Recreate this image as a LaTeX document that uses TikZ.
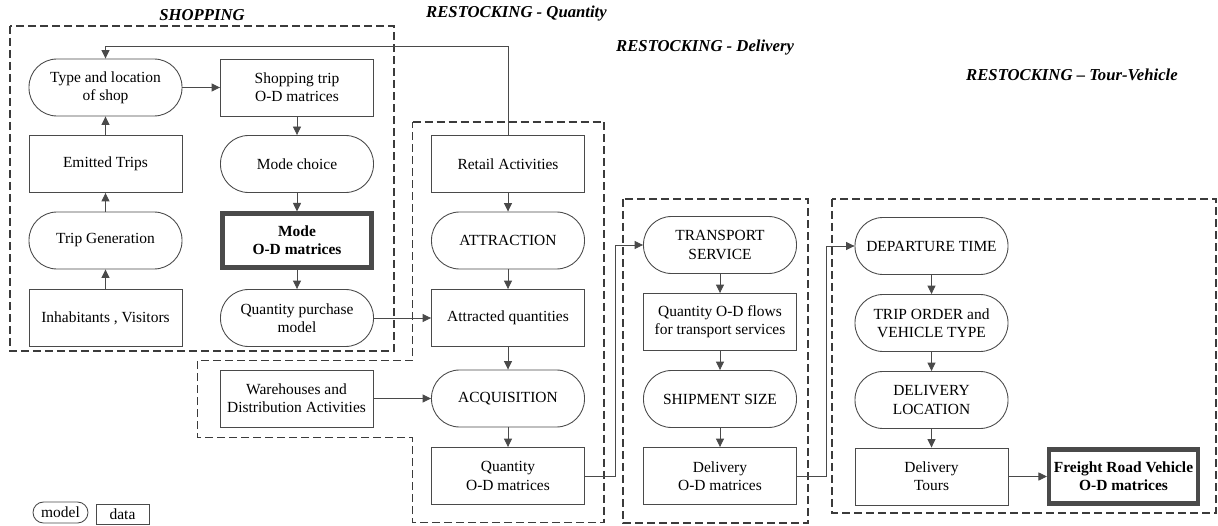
\documentclass[tikz,border=0pt]{standalone}
\usepackage{fontspec}
\setmainfont{Liberation Serif}
\usepackage{tikz}
\usetikzlibrary{arrows.meta}

\definecolor{linegray}{HTML}{4A4A4A}

\begin{document}
\begin{tikzpicture}[
    every node/.style={font=\fontsize{8.8}{10.4}\selectfont,align=center,text=black},
    datum/.style={draw=linegray,line width=0.5pt,minimum width=3.06cm,minimum height=1.14cm,inner sep=1pt},
    modelbox/.style={datum,rounded corners=5.6mm},
    result/.style={draw=linegray,line width=2.3pt,minimum width=2.98cm,minimum height=1.08cm,inner sep=1pt,font=\fontsize{8.8}{10.4}\selectfont\bfseries},
    flow/.style={draw=linegray,line width=0.5pt,-{Triangle[length=1.7mm,width=1.6mm]}},
    zone/.style={draw=linegray!80!black,line width=1.05pt,dash pattern=on 1.6mm off 0.8mm},
    zonetitle/.style={font=\fontsize{9.5}{11}\selectfont\bfseries\itshape}]
  \useasboundingbox (0,0) rectangle (24.36,10.5);

  \draw[zone] (0.2,9.98) rectangle (7.88,3.48);
  \draw[zone] (8.25,8.06) -- (12.08,8.06) -- (12.08,0.05) -- (8.25,0.05) -- (8.25,1.75)
    -- (3.95,1.75) -- (3.95,3.29) -- (8.25,3.29) -- cycle;
  \draw[zone] (12.46,6.52) rectangle (16.16,0.04);
  \draw[zone] (16.64,6.52) rectangle (24.32,0.24);

  \node[zonetitle] (t1) at (4.04,10.2) {SHOPPING};
  \node[zonetitle,anchor=west] (t2) at (8.4,10.22) {RESTOCKING - Quantity};
  \node[zonetitle,anchor=west] (t3) at (12.2,9.54) {RESTOCKING - Delivery};
  \node[zonetitle,anchor=west] (t4) at (19.2,9.0) {RESTOCKING -- Tour-Vehicle};

  \node[modelbox] (type) at (2.11,8.75) {Type and location\\of shop};
  \node[datum] (shoptrip) at (5.94,8.75) {Shopping trip\\O-D matrices};
  \node[datum] (emitted) at (2.11,7.22) {Emitted Trips};
  \node[modelbox] (modechoice) at (5.94,7.22) {Mode choice};
  \node[modelbox] (generation) at (2.11,5.69) {Trip Generation};
  \node[result] (modeod) at (5.94,5.69) {Mode\\O-D matrices};
  \node[datum] (inhab) at (2.11,4.14) {Inhabitants , Visitors};
  \node[modelbox] (purchase) at (5.94,4.14) {Quantity purchase\\model};

  \node[datum] (retail) at (10.16,7.22) {Retail Activities};
  \node[modelbox] (attraction) at (10.16,5.69) {ATTRACTION};
  \node[datum] (attracted) at (10.16,4.14) {Attracted quantities};
  \node[modelbox] (acquisition) at (10.16,2.53) {ACQUISITION};
  \node[datum] (qtyod) at (10.16,0.98) {Quantity\\O-D matrices};
  \node[datum] (warehouse) at (5.93,2.53) {Warehouses and\\Distribution Activities};

  \node[modelbox] (transport) at (14.4,5.6) {TRANSPORT\\SERVICE};
  \node[datum] (flows) at (14.4,4.06) {Quantity O-D flows\\for transport services};
  \node[modelbox] (shipment) at (14.4,2.52) {SHIPMENT SIZE};
  \node[datum] (delivod) at (14.4,0.98) {Delivery\\O-D matrices};

  \node[modelbox] (departure) at (18.63,5.58) {DEPARTURE TIME};
  \node[modelbox] (triporder) at (18.63,4.04) {TRIP ORDER and\\VEHICLE TYPE};
  \node[modelbox] (location) at (18.63,2.5) {DELIVERY\\LOCATION};
  \node[datum] (tours) at (18.63,0.97) {Delivery\\Tours};
  \node[result] (freight) at (22.47,0.97) {Freight Road Vehicle\\O-D matrices};

  \node[draw=linegray,line width=0.5pt,rounded corners=2.1mm,minimum width=1.1cm,minimum height=0.42cm,inner sep=0pt] (legmodel) at (1.21,0.25) {model};
  \node[draw=linegray,line width=0.5pt,minimum width=1.06cm,minimum height=0.4cm,inner sep=0pt] (legdata) at (2.45,0.22) {data};

  \coordinate (feedback) at (2.11,9.58);

  \draw[flow] (inhab) -- (generation);
  \draw[flow] (generation) -- (emitted);
  \draw[flow] (emitted) -- (type);
  \draw[flow] (type) -- (shoptrip);
  \draw[flow] (shoptrip) -- (modechoice);
  \draw[flow] (modechoice) -- (modeod);
  \draw[flow] (modeod) -- (purchase);
  \draw[flow] (purchase) -- (attracted);
  \draw[flow] (retail.north) |- (feedback) -- (type.north);

  \draw[flow] (retail) -- (attraction);
  \draw[flow] (attraction) -- (attracted);
  \draw[flow] (attracted) -- (acquisition);
  \draw[flow] (warehouse) -- (acquisition);
  \draw[flow] (acquisition) -- (qtyod);
  \draw[flow] (qtyod.east) -- ++(0.61,0) |- (transport.west);

  \draw[flow] (transport) -- (flows);
  \draw[flow] (flows) -- (shipment);
  \draw[flow] (shipment) -- (delivod);
  \draw[flow] (delivod.east) -- ++(0.59,0) |- (departure.west);

  \draw[flow] (departure) -- (triporder);
  \draw[flow] (triporder) -- (location);
  \draw[flow] (location) -- (tours);
  \draw[flow] (tours) -- (freight);
\end{tikzpicture}
\end{document}
